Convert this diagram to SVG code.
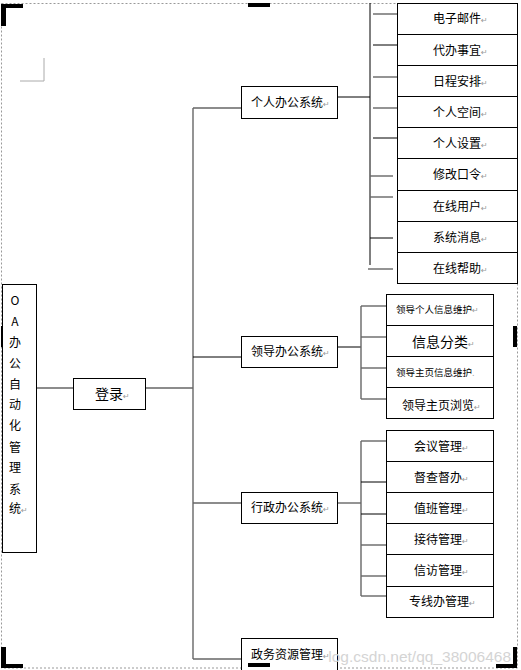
<svg xmlns="http://www.w3.org/2000/svg" width="521" height="670" viewBox="0 0 521 670">
<style>
.box{fill:#fff;stroke:#000;stroke-width:1}
.t{font-family:"Noto Sans CJK SC","Noto Sans",sans-serif;font-size:12px;fill:#000}
.pm{font-family:"DejaVu Sans",sans-serif;font-size:8px;fill:#999}
.k{stroke:#000;stroke-width:1;fill:none}
.g{stroke:#666;stroke-width:1.4;fill:none}
.mark{fill:#000}
</style>
<rect width="521" height="670" fill="#fff"/>
<!-- page frame -->
<g id="page">
<rect x="1.5" y="3.5" width="516" height="664.5" fill="none" stroke="#999" stroke-width="1" stroke-dasharray="2,2"/>
<path d="M44,58 V81 H20" fill="none" stroke="#aaa" stroke-width="1"/>
<path class="mark" d="M1,4 H23 V8 H6 V26 H1 Z"/>
<rect class="mark" x="248" y="3" width="22" height="4"/>
<path class="mark" d="M496,4 H517 V26 H513 V8 H496 Z"/>
<rect class="mark" x="1" y="326" width="4" height="21"/>
<rect class="mark" x="513" y="326" width="4" height="21"/>
</g>
<!-- connectors -->
<g id="connectors">
<path class="g" d="M36,388 H73"/>
<path class="g" d="M145,388 H193"/>
<path class="g" d="M193,108 V659"/>
<path class="g" d="M193,108 H241"/>
<path class="k" d="M193,357 H241"/>
<path class="g" d="M193,503 H241"/>
<path class="g" d="M193,659 H241"/>
<!-- personal -->
<path class="k" d="M337,97 H370"/>
<path class="k" d="M370,3 V265"/>
<path class="g" d="M373,14 H397"/>
<path class="k" d="M373,45 H397"/>
<path class="g" d="M373,77 H397"/>
<path class="g" d="M373,108 H397"/>
<path class="k" d="M373,138 H397"/>
<path class="g" d="M370,176 H393"/>
<path class="g" d="M370,197 H393"/>
<path class="k" d="M370,238 H393"/>
<path class="g" d="M368,269 H393"/>
<!-- leader -->
<path class="k" d="M337,347 H361"/>
<path class="g" d="M361,306 V399"/>
<path class="g" d="M361,306 H386"/>
<path class="g" d="M361,337 H386"/>
<path class="g" d="M361,368 H386"/>
<path class="g" d="M361,399 H386"/>
<!-- admin -->
<path class="g" d="M337,503 H361"/>
<path class="g" d="M361,441 V596"/>
<path class="g" d="M361,441 H386"/>
<path class="k" d="M361,482 H386"/>
<path class="k" d="M361,514 H386"/>
<path class="g" d="M361,545 H386"/>
<path class="g" d="M361,576 H386"/>
<path class="g" d="M361,596 H386"/>
</g>
<!-- root -->
<g id="oa">
<rect class="box" x="2.5" y="284.5" width="34" height="268"/>
<g class="t" text-anchor="middle">
<text x="15" y="305">O</text>
<text x="15" y="326">A</text>
<text x="15" y="347">办</text>
<text x="15" y="368">公</text>
<text x="15" y="389">自</text>
<text x="15" y="409">动</text>
<text x="15" y="430">化</text>
<text x="15" y="452">管</text>
<text x="15" y="472">理</text>
<text x="15" y="494">系</text>
</g>
<text class="t" x="9" y="513">统<tspan class="pm">↵</tspan></text>
</g>
<g id="login">
<rect class="box" x="73.5" y="378.5" width="72" height="31"/>
<text class="t" x="95" y="399" style="font-size:14px">登录<tspan class="pm">↵</tspan></text>
</g>
<g id="personal">
<rect class="box" x="241.5" y="86.5" width="96" height="32"/>
<text class="t" x="251" y="107">个人办公系统<tspan class="pm">↵</tspan></text>
</g>
<g id="leader">
<rect class="box" x="241.5" y="336.5" width="96" height="31"/>
<text class="t" x="251" y="356">领导办公系统<tspan class="pm">↵</tspan></text>
</g>
<g id="admin">
<rect class="box" x="241.5" y="492.5" width="96" height="31"/>
<text class="t" x="251" y="512">行政办公系统<tspan class="pm">↵</tspan></text>
</g>
<g id="gov">
<rect class="box" x="241.5" y="638.5" width="96" height="40"/>
<text class="t" x="251" y="659">政务资源管理<tspan class="pm">↵</tspan></text>
</g>
<!-- personal children -->
<g id="p-items">
<g id="p1"><rect class="box" x="397.5" y="3.5" width="120" height="31"/><text class="t" x="433" y="23">电子邮件<tspan class="pm">↵</tspan></text></g>
<g id="p2"><rect class="box" x="397.5" y="34.5" width="120" height="31"/><text class="t" x="433" y="55">代办事宜<tspan class="pm">↵</tspan></text></g>
<g id="p3"><rect class="box" x="397.5" y="65.5" width="120" height="31"/><text class="t" x="433" y="86">日程安排<tspan class="pm">↵</tspan></text></g>
<g id="p4"><rect class="box" x="397.5" y="96.5" width="120" height="31"/><text class="t" x="433" y="117">个人空间<tspan class="pm">↵</tspan></text></g>
<g id="p5"><rect class="box" x="397.5" y="127.5" width="120" height="31"/><text class="t" x="433" y="148">个人设置<tspan class="pm">↵</tspan></text></g>
<g id="p6"><rect class="box" x="397.5" y="158.5" width="120" height="32"/><text class="t" x="433" y="179">修改口令<tspan class="pm">↵</tspan></text></g>
<g id="p7"><rect class="box" x="397.5" y="190.5" width="120" height="31"/><text class="t" x="433" y="211">在线用户<tspan class="pm">↵</tspan></text></g>
<g id="p8"><rect class="box" x="397.5" y="221.5" width="120" height="31"/><text class="t" x="433" y="242">系统消息<tspan class="pm">↵</tspan></text></g>
<g id="p9"><rect class="box" x="397.5" y="252.5" width="120" height="31"/><text class="t" x="433" y="273">在线帮助<tspan class="pm">↵</tspan></text></g>
</g>
<!-- leader children -->
<g id="l-items">
<g id="l1"><rect class="box" x="386.5" y="294.5" width="107" height="31"/><text class="t" x="396" y="312.5" style="font-size:9.5px">领导个人信息维护<tspan class="pm">↵</tspan></text></g>
<g id="l2"><rect class="box" x="386.5" y="325.5" width="107" height="31"/><text class="t" x="412" y="347" style="font-size:14px">信息分类<tspan class="pm">↵</tspan></text></g>
<g id="l3"><rect class="box" x="386.5" y="356.5" width="107" height="31"/><text class="t" x="396" y="375.5" style="font-size:9.5px">领导主页信息维护<tspan class="pm">.</tspan></text></g>
<g id="l4"><rect class="box" x="386.5" y="387.5" width="107" height="31"/><text class="t" x="402" y="409.5">领导主页浏览<tspan class="pm">↵</tspan></text></g>
</g>
<!-- admin children -->
<g id="a-items">
<g id="a1"><rect class="box" x="386.5" y="430.5" width="107" height="31"/><text class="t" x="414" y="451">会议管理<tspan class="pm">↵</tspan></text></g>
<g id="a2"><rect class="box" x="386.5" y="461.5" width="107" height="31"/><text class="t" x="414" y="482">督查督办<tspan class="pm">↵</tspan></text></g>
<g id="a3"><rect class="box" x="386.5" y="492.5" width="107" height="31"/><text class="t" x="414" y="513">值班管理<tspan class="pm">↵</tspan></text></g>
<g id="a4"><rect class="box" x="386.5" y="523.5" width="107" height="31"/><text class="t" x="414" y="544">接待管理<tspan class="pm">↵</tspan></text></g>
<g id="a5"><rect class="box" x="386.5" y="554.5" width="107" height="32"/><text class="t" x="414" y="575">信访管理<tspan class="pm">↵</tspan></text></g>
<g id="a6"><rect class="box" x="386.5" y="586.5" width="107" height="31"/><text class="t" x="409" y="606">专线办管理<tspan class="pm">↵</tspan></text></g>
</g>
<text x="511" y="662" text-anchor="end" style="font-family:'Liberation Sans',sans-serif;font-size:15.5px;fill:#d4d4d4">log.csdn.net/qq_38006468</text>
<g id="page-bottom">
<path class="mark" d="M1,647 H6 V664 H23 V668 H1 Z"/>
<rect class="mark" x="248" y="663" width="22" height="4"/>
<path class="mark" d="M496,664 H513 V647 H517 V668 H496 Z"/>
</g>
</svg>
